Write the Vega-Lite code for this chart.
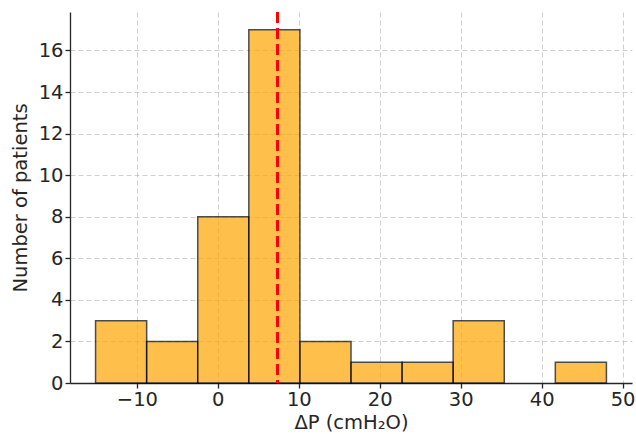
{
  "$schema": "https://vega.github.io/schema/vega-lite/v6.json",
  "width": 562,
  "height": 371,
  "autosize": {"type": "none"},
  "padding": {"left": 70, "top": 12, "right": 4, "bottom": 51},
  "background": "white",
  "config": {
    "view": {"stroke": null},
    "font": "DejaVu Sans",
    "axis": {
      "labelFont": "DejaVu Sans",
      "titleFont": "DejaVu Sans",
      "labelFontSize": 19.5,
      "titleFontSize": 19.5,
      "titleFontWeight": "normal",
      "labelColor": "#262626",
      "titleColor": "#262626",
      "domainColor": "#262626",
      "domainWidth": 1.3,
      "tickColor": "#262626",
      "tickSize": 5,
      "tickWidth": 1.3,
      "labelPadding": 2,
      "gridColor": "#b0b0b0",
      "gridDash": [5, 3],
      "gridOpacity": 0.6,
      "gridWidth": 1
    }
  },
  "datasets": {
    "bins": [
      {"start": -15.1, "end": -8.79, "count": 3},
      {"start": -8.79, "end": -2.48, "count": 2},
      {"start": -2.48, "end": 3.83, "count": 8},
      {"start": 3.83, "end": 10.14, "count": 17},
      {"start": 10.14, "end": 16.45, "count": 2},
      {"start": 16.45, "end": 22.76, "count": 1},
      {"start": 22.76, "end": 29.07, "count": 1},
      {"start": 29.07, "end": 35.38, "count": 3},
      {"start": 35.38, "end": 41.69, "count": 0},
      {"start": 41.69, "end": 48.0, "count": 1}
    ],
    "mean": [{"mean": 7.37}]
  },
  "layer": [
    {
      "data": {"name": "bins"},
      "transform": [{"filter": "datum.count > 0"}],
      "mark": {"type": "bar", "fill": "orange", "stroke": "black", "strokeWidth": 1.5, "opacity": 0.7},
      "encoding": {
        "x": {
          "field": "start",
          "type": "quantitative",
          "scale": {"domain": [-18.26, 51.16], "nice": false, "zero": false},
          "axis": {"values": [-10, 0, 10, 20, 30, 40, 50], "title": "ΔP (cmH₂O)", "titlePadding": 5}
        },
        "x2": {"field": "end"},
        "y": {
          "field": "count",
          "type": "quantitative",
          "scale": {"domain": [0, 17.85], "nice": false},
          "axis": {"values": [0, 2, 4, 6, 8, 10, 12, 14, 16], "title": "Number of patients", "titlePadding": 8}
        },
        "y2": {"datum": 0}
      }
    },
    {
      "data": {"name": "mean"},
      "mark": {"type": "rule", "color": "red", "strokeWidth": 3, "strokeDash": [11, 5]},
      "encoding": {
        "x": {"field": "mean", "type": "quantitative"}
      }
    }
  ]
}
